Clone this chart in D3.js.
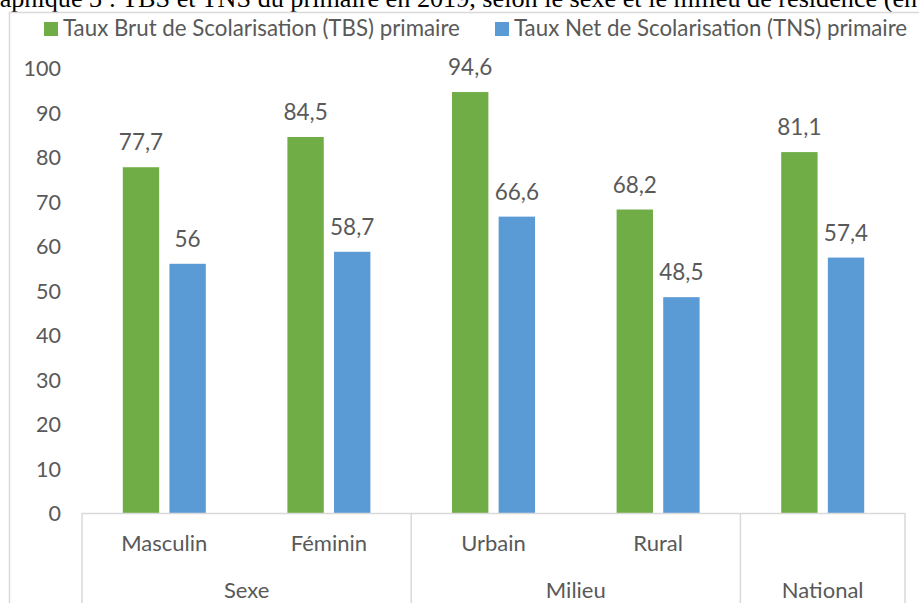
<!DOCTYPE html>
<html>
<head>
<meta charset="utf-8">
<script src="https://cdn.jsdelivr.net/npm/d3@7"></script>
<style>
  body { margin: 0; background: #fff; }
  svg { display: block; }
  text { font-family: Lato, "Open Sans", sans-serif; fill: #595959; }
  .title { font-family: "Liberation Serif", "Times New Roman", serif; fill: #000; }
</style>
</head>
<body>
<svg class="plot"></svg>
<script>
// data
const categories = ["Masculin", "Féminin", "Urbain", "Rural", "National"];
const groups = ["Sexe", "Sexe", "Milieu", "Milieu", "National"];
const seriesNames = ["Taux Brut de Scolarisation (TBS) primaire", "Taux Net de Scolarisation (TNS) primaire"];
const tbs = [77.7, 84.5, 94.6, 68.2, 81.1];
const tns = [56, 58.7, 66.6, 48.5, 57.4];
const yTicks = [0, 10, 20, 30, 40, 50, 60, 70, 80, 90, 100];
const colors = ["#70AD47", "#5B9BD5"];

const W = 919, H = 603;
const plot = {left: 82, right: 905, top: 68, bottom: 513};

let svg = d3.select(".plot")
            .attr("width", W)
            .attr("height", H);

// title (cut off by the crop of the picture)
svg.append("text")
   .attr("class", "title")
   .attr("x", -28)
   .attr("y", 7)
   .style("font-size", "26.2px")
   .text("Graphique 3 : TBS et TNS du primaire en 2019, selon le sexe et le milieu de résidence (en %)");

// chart frame
svg.append("rect")
   .attr("x", 9.5)
   .attr("y", 12.5)
   .attr("width", 960)
   .attr("height", 640)
   .style("fill", "#fff")
   .style("stroke", "#d9d9d9")
   .style("stroke-width", 1.5);

let x0 = d3.scaleBand()
           .domain(categories)
           .range([plot.left, plot.right]);

let groupWidth = 83;
let x1 = d3.scaleBand()
           .domain([0, 1])
           .range([0, groupWidth])
           .paddingInner(0.22);

let y = d3.scaleLinear()
          .domain([0, 100])
          .range([plot.bottom, plot.top]);

// y-Axis labels (no line)
let yAxis = d3.axisLeft(y)
              .tickValues(yTicks)
              .tickSize(0)
              .tickPadding(0);
let yAxisG = svg.append("g")
                .attr("transform", "translate(61,0)")
                .call(yAxis);
yAxisG.select(".domain").remove();
yAxisG.selectAll("text")
      .attr("dy", "0.36em")
      .style("font-family", "Lato, sans-serif")
      .style("font-size", "21.5px")
      .style("fill", "#595959");

// bars
let rows = categories.map((c, i) => ({cat: c, values: [tbs[i], tns[i]]}));

let catG = svg.selectAll(".cat")
              .data(rows)
              .enter().append("g")
              .attr("class", "cat")
              .attr("transform", (d) => "translate(" + (x0(d.cat) + (x0.bandwidth() - groupWidth) / 2) + ",0)");

catG.selectAll("rect")
    .data((d) => d.values.map((v, k) => ({k: k, v: v})))
    .enter().append("rect")
    .attr("x", (d) => x1(d.k))
    .attr("width", x1.bandwidth())
    .attr("y", (d) => y(d.v))
    .attr("height", (d) => y(0) - y(d.v))
    .style("fill", (d) => colors[d.k]);

catG.selectAll(".val")
    .data((d) => d.values.map((v, k) => ({k: k, v: v})))
    .enter().append("text")
    .attr("class", "val")
    .attr("x", (d) => x1(d.k) + x1.bandwidth() / 2)
    .attr("y", (d) => y(d.v) - 17)
    .attr("text-anchor", "middle")
    .style("font-size", "22.5px")
    .text((d) => String(d.v).replace(".", ","));

// x-Axis
svg.append("line")
   .attr("x1", plot.left).attr("x2", plot.right)
   .attr("y1", plot.bottom + 0.5).attr("y2", plot.bottom + 0.5)
   .style("stroke", "#d9d9d9")
   .style("stroke-width", 1.5);

// group separators
let groupNames = Array.from(new Set(groups));
let groupSpans = groupNames.map((g) => {
  let cats = categories.filter((c, i) => groups[i] === g);
  return {name: g, x0: x0(cats[0]), x1: x0(cats[cats.length - 1]) + x0.bandwidth()};
});
let edges = [plot.left].concat(groupSpans.map((g) => g.x1));

svg.selectAll(".sep")
   .data(edges)
   .enter().append("line")
   .attr("class", "sep")
   .attr("x1", (d) => d).attr("x2", (d) => d)
   .attr("y1", plot.bottom).attr("y2", H)
   .style("stroke", "#d9d9d9")
   .style("stroke-width", 1.5);

// sub-category labels (a single-category group shows only its group name)
svg.selectAll(".cat-label")
   .data(categories.filter((c, i) => c !== groups[i]))
   .enter().append("text")
   .attr("class", "cat-label")
   .attr("x", (d) => x0(d) + x0.bandwidth() / 2)
   .attr("y", 551)
   .attr("text-anchor", "middle")
   .style("font-size", "22px")
   .text((d) => d);

svg.selectAll(".group-label")
   .data(groupSpans)
   .enter().append("text")
   .attr("class", "group-label")
   .attr("x", (d) => (d.x0 + d.x1) / 2)
   .attr("y", 598)
   .attr("text-anchor", "middle")
   .style("font-size", "22px")
   .text((d) => d.name);

// Legend
let legendX = [44, 495];
let legend = svg.selectAll(".legend")
                .data(seriesNames)
                .enter().append("g")
                .attr("class", "legend")
                .attr("transform", (d, i) => "translate(" + legendX[i] + ",22)");

legend.append("rect")
      .attr("width", 14)
      .attr("height", 14)
      .style("fill", (d, i) => colors[i]);

legend.append("text")
      .attr("x", 19)
      .attr("y", 14)
      .style("font-size", "22.3px")
      .text((d) => d);
</script>
</body>
</html>
